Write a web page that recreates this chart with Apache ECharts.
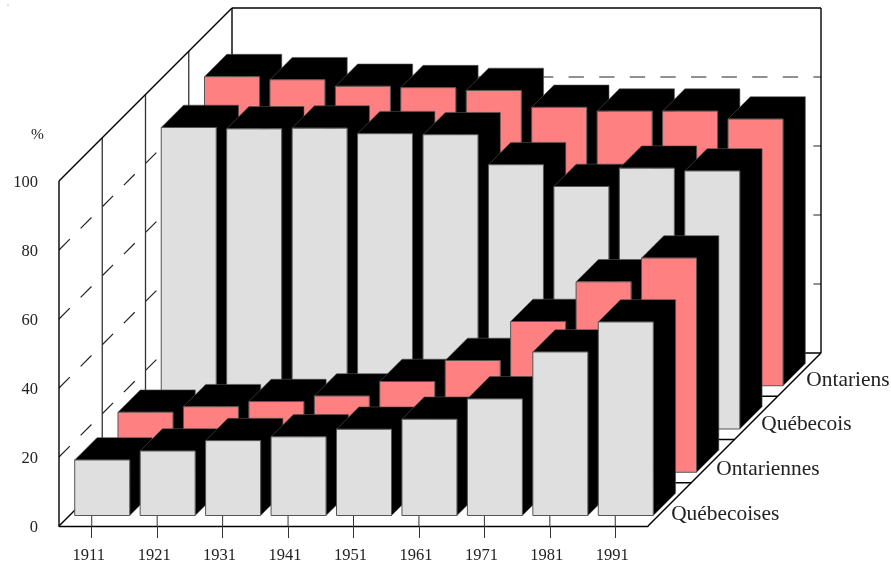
<!DOCTYPE html>
<html><head><meta charset="utf-8">
<style>html,body{margin:0;padding:0;background:#fff}#c{width:891px;height:562px}</style>
<script src="https://cdn.jsdelivr.net/npm/echarts@6/dist/echarts.min.js"></script>
</head><body><div id="c"></div>
<script>
const years = ['1911','1921','1931','1941','1951','1961','1971','1981','1991'];
const rowLabels = ['Québecoises','Ontariennes','Québecois','Ontariens'];
const quebecoises = [16.1,18.7,21.7,22.8,25.0,27.9,33.8,47.4,56.1];
const ontariennes = [17.4,19.0,20.5,22.1,26.3,32.4,43.7,55.2,62.1];
const quebecois   = [87.4,87.0,87.2,85.6,85.3,76.6,70.3,75.6,74.8];
const ontariens   = [89.6,88.7,86.8,86.4,85.6,80.7,79.6,79.6,77.3];
const yTicks = [20,40,60,80];

const FONT = 'Liberation Serif', TXT = '#222';
const GRAY = '#dfdfdf', PINK = '#ff8080', EDGE = '#555';
const DEPTH = 173, ROW = DEPTH / 4, FRONT = 10.5, THICK = 22.3, BARW = 55;

const chart = echarts.init(document.getElementById('c'));
const ln = (x1,y1,x2,y2,extra) => ({type:'line',shape:{x1,y1,x2,y2},
  style:Object.assign({stroke:'#000',lineWidth:1.4,fill:null},extra||{})});

function frame(api){
  const band = api.size([1,0])[0], o = api.coord([0,0]);
  const x0 = o[0]-band/2;
  return {x0, y0:o[1], yT:api.coord([0,100])[1], xR:x0+band*years.length};
}

function renderWalls(params, api){
  const {x0,y0,yT,xR} = frame(api), D = DEPTH, c = [];
  const dash = {lineDash:[15.3,15.3], lineWidth:1.2, stroke:'#222'};
  yTicks.forEach(v=>{
    const y = api.coord([0,v])[1];
    c.push(ln(x0,y,x0+D,y-D,dash));
    c.push(ln(x0+D,y-D,xR+D,y-D,dash));
  });
  for(let i=1;i<=3;i++){
    const d=ROW*i;
    c.push(ln(x0+d,yT-d,x0+d,y0-d,{stroke:'#333',lineWidth:1.3}));
    c.push(ln(x0+d,y0-d,xR+d,y0-d));
  }
  c.push(ln(x0,y0,x0,yT));
  c.push(ln(x0,yT,x0+D,yT-D));
  c.push(ln(x0+D,yT-D,xR+D,yT-D));
  c.push(ln(xR+D,yT-D,xR+D,y0-D));
  c.push(ln(x0+D,yT-D,x0+D,y0-D));
  c.push(ln(x0+D,y0-D,xR+D,y0-D));
  c.push(ln(x0,y0,x0+D,y0-D));
  c.push(ln(xR,y0,xR+D,y0-D));
  years.forEach((_,i)=>{
    const p = api.coord([i,0]);
    c.push(ln(p[0],p[1],p[0],p[1]-FRONT-1,{stroke:'#333',lineWidth:1}));
  });
  return {type:'group',children:c};
}

const makeBars = (row,color) => function(params, api){
  const p = api.coord([api.value(0),api.value(1)]), b = api.coord([api.value(0),0]);
  const d = FRONT + ROW*row;
  const x = p[0]-BARW/2+d, xr = x+BARW, top = p[1]-d, bot = b[1]-d, T = THICK;
  return {type:'group',children:[
    {type:'polygon',shape:{points:[[x,top],[x+T,top-T],[xr+T,top-T],[xr+T,bot-T],[xr,bot],[xr,top]]},
      style:{fill:'#000',stroke:'#555',lineWidth:0.6}},
    {type:'rect',shape:{x,y:top,width:BARW,height:bot-top},
      style:{fill:color,stroke:EDGE,lineWidth:1}}
  ]};
};

function renderRowLabel(params, api){
  const i = api.value(0), {xR,y0} = frame(api);
  const d = FRONT + THICK/2 + ROW*i;
  return {type:'text',style:{x:xR+d+1.5+1.8*i,y:y0-d+10-1.5*i,text:rowLabels[i],
    font:'21.4px "'+FONT+'"',fill:TXT,textAlign:'left',textVerticalAlign:'middle'}};
}

const series = [{type:'custom',renderItem:renderWalls,data:[[0,0]],clip:false,silent:true,z:2,encode:{x:0,y:1}}];
[[3,ontariens,PINK,'Ontariens'],[2,quebecois,GRAY,'Québecois'],[1,ontariennes,PINK,'Ontariennes'],[0,quebecoises,GRAY,'Québecoises']]
 .forEach(([row,vals,color,name],k)=>series.push({type:'custom',name,renderItem:makeBars(row,color),
   data:vals.map((v,i)=>[i,v]),clip:false,z:3+k,encode:{x:0,y:1}}));
series.push({type:'custom',renderItem:renderRowLabel,data:rowLabels.map((_,i)=>[i,0]),clip:false,silent:true,z:9,encode:{x:0,y:1}});

chart.setOption({
  animation:false,
  backgroundColor:'#fff',
  textStyle:{fontFamily:FONT},
  grid:{left:59,top:181,width:589,height:345,containLabel:false,outerBoundsMode:'none'},
  xAxis:{type:'category',data:years,boundaryGap:true,
    axisLine:{show:true,lineStyle:{color:'#000',width:1.4}},
    axisTick:{show:true,alignWithLabel:true,length:12,lineStyle:{color:'#333',width:1}},
    axisLabel:{color:TXT,fontFamily:FONT,fontSize:16.5,margin:21,interval:0,padding:[0,6,0,0]},
    splitLine:{show:false}},
  yAxis:{type:'value',min:0,max:100,interval:20,
    name:'%',nameLocation:'end',nameGap:46,
    nameTextStyle:{color:TXT,fontFamily:FONT,fontSize:15.5,align:'right',verticalAlign:'middle',padding:[0,15,0,0]},
    axisLine:{show:false},axisTick:{show:false},
    axisLabel:{color:TXT,fontFamily:FONT,fontSize:16.5,margin:21,verticalAlign:'top',lineHeight:3},
    splitLine:{show:false}},
  graphic:[{type:'circle',shape:{cx:8,cy:5,r:0.6},style:{fill:'#666'}}],
  series
});
</script></body></html>
